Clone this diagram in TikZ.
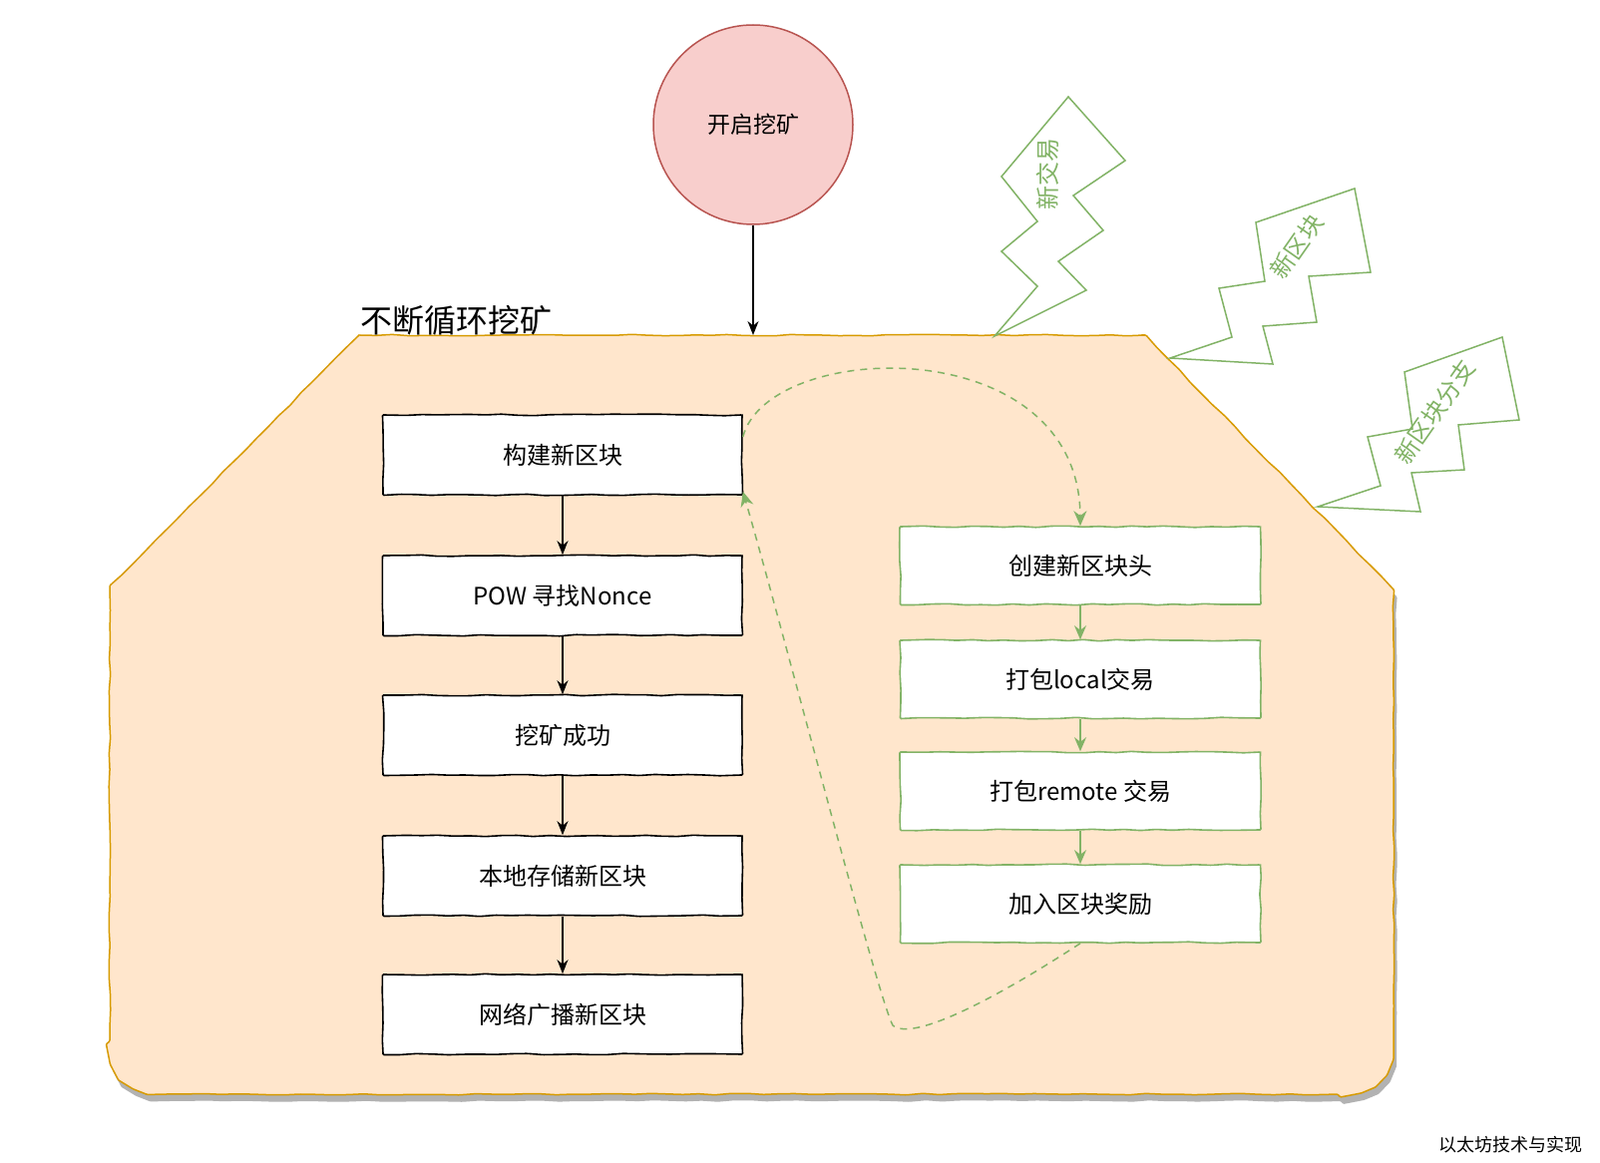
\documentclass[tikz,border=0pt]{standalone}
\usepackage{fontspec}
\setmainfont{Noto Sans CJK SC}
\usetikzlibrary{arrows.meta,decorations.pathmorphing,shadows}

\definecolor{loopfill}{HTML}{FFE6CC}
\definecolor{loopline}{HTML}{D79B00}
\definecolor{leafline}{HTML}{82B366}
\definecolor{startfill}{HTML}{F8CECC}
\definecolor{startline}{HTML}{B85450}

\tikzset{
  rough/.style={decorate,decoration={random steps,segment length=16pt,amplitude=0.8pt},rounded corners=1pt},
  stepbox/.style={rectangle,draw=black,line width=1.6pt,fill=white,minimum width=360pt,minimum height=80pt,
    inner sep=0pt,font=\fontsize{24}{28}\selectfont,rough},
  packbox/.style={stepbox,draw=leafline,minimum width=361pt,minimum height=78pt},
  flow/.style={-{Stealth[length=14pt,width=11pt]},line width=1.4pt},
  packflow/.style={flow,draw=leafline,-{Stealth[length=14pt,width=12pt,fill=leafline]}},
  backflow/.style={draw=leafline,line width=1.5pt,dash pattern=on 7pt off 6pt,
    -{Stealth[length=15pt,width=13pt,fill=leafline]}},
  bolt/.style={draw=leafline,line width=1.5pt,line join=miter},
  bolttext/.style={text=leafline,font=\fontsize{24}{28}\selectfont,inner sep=0pt}
}

\begin{document}
\begin{tikzpicture}[x=1pt,y=-1pt]
  \useasboundingbox[fill=white] (0,0) rectangle (1604,1166);

  % mining loop area
  \draw[fill=loopfill,draw=loopline,line width=1.5pt,rough,
    drop shadow={shadow xshift=3pt,shadow yshift=-7pt,fill=black!30,opacity=1}]
    (360,336) -- (1148,336) -- (1397,591) -- (1397,1045)
    .. controls (1397,1080) and (1375,1097) .. (1342,1097) -- (165,1097)
    .. controls (132,1097) and (110,1080) .. (110,1045) -- (110,588) -- cycle;
  \node[anchor=base west,inner sep=0pt,font=\fontsize{32}{36}\selectfont] (looptitle) at (361,334) {不断循环挖矿};
  \coordinate (looptop) at (755,336);

  % start
  \node[circle,draw=startline,fill=startfill,line width=1.5pt,minimum size=200pt,
    font=\fontsize{23}{27}\selectfont] (start) at (755,125) {开启挖矿};
  \draw[flow] (start) -- (looptop);

  % main steps
  \node[stepbox] (b1) at (564,456) {构建新区块};
  \node[stepbox] (b2) at (564,597) {POW 寻找Nonce};
  \node[stepbox] (b3) at (564,737) {挖矿成功};
  \node[stepbox] (b4) at (564,878) {本地存储新区块};
  \node[stepbox] (b5) at (564,1017) {网络广播新区块};
  \foreach \a/\b in {b1/b2,b2/b3,b3/b4,b4/b5}
    \draw[flow] (\a) -- (\b);

  % block assembly
  \node[packbox] (r1) at (1083,567) {创建新区块头};
  \node[packbox] (r2) at (1083,681) {打包local交易};
  \node[packbox] (r3) at (1083,793) {打包remote 交易};
  \node[packbox] (r4) at (1083,906) {加入区块奖励};
  \foreach \a/\b in {r1/r2,r2/r3,r3/r4}
    \draw[packflow] (\a) -- (\b);

  \draw[backflow] ([yshift=18pt]b1.east) .. controls (770,340) and (1082,330) .. (r1.north);
  \coordinate (turn) at (895,1028);
  \draw[backflow] (r4.south) .. controls (1000,1000) and (915,1045) .. (turn)
    .. controls (880,1000) and (790,650) .. ([yshift=4pt]b1.south east);

  % interrupts
  \draw[bolt] (997,337) -- (1040,287) -- (1004,252) -- (1040,222) -- (1004,177) -- (1071,97)
    -- (1128,161) -- (1076,196) -- (1106,231) -- (1061,262) -- (1089,291) -- cycle;
  \node[bolttext,rotate=90] (newtx) at (1050,175) {新交易};

  \draw[bolt] (1173,359) -- (1235,338) -- (1222,289) -- (1268,282) -- (1259,223) -- (1358,189)
    -- (1374,273) -- (1312,277) -- (1320,323) -- (1266,327) -- (1276,365) -- cycle;
  \node[bolttext,rotate=55] (newblock) at (1300,247) {新区块};

  \draw[bolt] (1321,508) -- (1384,487) -- (1371,438) -- (1416,430) -- (1408,373) -- (1506,338)
    -- (1523,421) -- (1462,426) -- (1468,471) -- (1415,474) -- (1424,513) -- cycle;
  \node[bolttext,rotate=55] (newfork) at (1438,413) {新区块分支};

  \node[font=\fontsize{18}{20}\selectfont,inner sep=0pt] (mark) at (1514,1148) {以太坊技术与实现};
\end{tikzpicture}
\end{document}
